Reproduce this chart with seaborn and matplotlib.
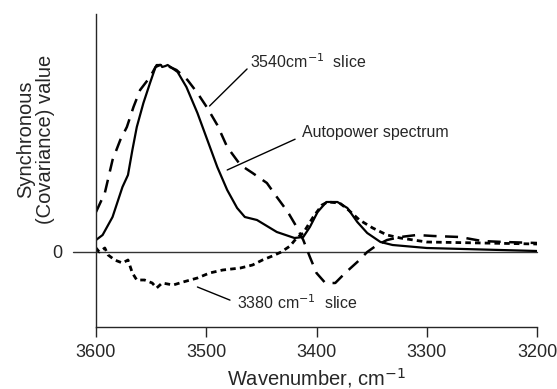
import matplotlib
matplotlib.use("Agg")
import matplotlib.pyplot as plt
import seaborn as sns
import pandas as pd

# ---- data (arbitrary covariance units) ----
w_auto = [3600, 3594, 3585, 3576, 3571, 3567, 3563, 3557, 3551, 3546, 3545, 3541,
          3540, 3537, 3535, 3531, 3526, 3518, 3508, 3499, 3490, 3481, 3472, 3465,
          3454, 3442, 3436, 3420, 3412, 3406, 3399, 3391, 3381, 3372, 3363, 3354,
          3342, 3331, 3300, 3250, 3200]
v_auto = [12, 17, 35, 65, 77, 102, 125, 149, 169, 185, 187, 187,
          185, 186, 187, 184, 180, 165, 139, 112, 85, 62, 44, 35,
          32, 24, 20, 14, 15, 25, 40, 50, 50, 44, 30, 19,
          10, 7, 4, 2.5, 1]

w_3540 = [3600, 3592, 3585, 3578, 3572, 3566, 3560, 3551, 3546, 3542, 3535, 3527,
          3517, 3508, 3499, 3490, 3481, 3469, 3458, 3445, 3436, 3426, 3418, 3412,
          3406, 3400, 3392, 3383, 3374, 3363, 3354, 3345, 3336, 3324, 3309, 3294,
          3270, 3250, 3230, 3200]
v_3540 = [40, 59, 92, 112, 125, 145, 162, 175, 185, 187, 186, 182,
          172, 159, 144, 127, 105, 87, 79, 69, 55, 40, 25, 12,
          -5, -21, -31, -31, -21, -10, 0, 7, 12, 15, 17, 16,
          15, 11, 10, 9]

w_3380 = [3600, 3597, 3592, 3589, 3583, 3576, 3571, 3567, 3563, 3556, 3549, 3545,
          3540, 3530, 3521, 3508, 3497, 3485, 3469, 3458, 3449, 3440, 3432, 3424,
          3418, 3412, 3403, 3395, 3390, 3379, 3371, 3361, 3349, 3336, 3324, 3300,
          3250, 3200]
v_3380 = [4, 0, 4, -3, -8, -11, -8, -21, -28, -28, -31, -36,
          -31, -33, -30, -26, -21, -18, -16, -13, -8, -4, 0, 6,
          14, 19, 35, 47, 50, 49, 42, 32, 24, 17, 14, 10,
          9, 8]

x_ticks = [3600, 3500, 3400, 3300, 3200]

# ---- style ----
sns.set_style("ticks")
plt.rcParams['font.family'] = ['Liberation Sans', 'DejaVu Sans']

fig = plt.figure(figsize=(5.57, 3.89), dpi=100)
ax = fig.add_axes([96 / 557, 62 / 389, 441 / 557, 313 / 389])

df_auto = pd.DataFrame({"w": w_auto, "v": v_auto})
df_3540 = pd.DataFrame({"w": w_3540, "v": v_3540})
df_3380 = pd.DataFrame({"w": w_3380, "v": v_3380})

sns.lineplot(data=df_auto, x="w", y="v", ax=ax, color="black", lw=1.6,
             sort=False, estimator=None)
l2 = sns.lineplot(data=df_3540, x="w", y="v", ax=ax, color="black", lw=1.8,
                  sort=False, estimator=None).lines[-1]
l2.set_dashes([5.2, 3.4])
l3 = sns.lineplot(data=df_3380, x="w", y="v", ax=ax, color="black", lw=2.0,
                  sort=False, estimator=None).lines[-1]
l3.set_dashes([2.0, 1.5])

# zero line, extending left of the axis
ax.axhline(0, xmin=-0.052, xmax=1.0, color="#333333", lw=1.0, clip_on=False, zorder=1)

ax.set_xlim(3600, 3200)
ax.set_ylim(-75, 238)
ax.set_xticks(x_ticks)
ax.set_xticklabels([str(t) for t in x_ticks])
ax.set_yticks([0])
ax.set_yticklabels(["0"])
ax.tick_params(axis="x", direction="out", length=7, width=1.0, pad=5, labelsize=13)
ax.tick_params(axis="y", length=0, pad=24, labelsize=13)
sns.despine(ax=ax)
for s in ["left", "bottom"]:
    ax.spines[s].set_linewidth(1.0)
ax.spines["left"].set_bounds(-75, 238)

ax.set_xlabel("Wavenumber, cm$^{-1}$", fontsize=14.5, labelpad=4)
ax.set_ylabel("")
fig.text(36 / 557, 1 - 139 / 389, "Synchronous\n(Covariance) value", rotation=90,
         ha="center", va="center", multialignment="center", fontsize=14.5,
         linespacing=1.05)

# annotations
ax.annotate("3540cm$^{-1}$  slice", xy=(3497, 146), xytext=(3460, 190),
            fontsize=11.5, va="center", ha="left",
            arrowprops=dict(arrowstyle="-", color="black", lw=1.0,
                            shrinkA=0, shrinkB=0, relpos=(0, 0.3)))
ax.annotate("Autopower spectrum", xy=(3481, 82), xytext=(3413, 119),
            fontsize=11.5, va="center", ha="left",
            arrowprops=dict(arrowstyle="-", color="black", lw=1.0,
                            shrinkA=3, shrinkB=0, relpos=(0, 0.3)))
ax.annotate("3380 cm$^{-1}$  slice", xy=(3508, -35), xytext=(3472, -51),
            fontsize=11.5, va="center", ha="left",
            arrowprops=dict(arrowstyle="-", color="black", lw=1.0,
                            shrinkA=3, shrinkB=0, relpos=(0, 0.5)))

fig.savefig("out.png", dpi=100)
